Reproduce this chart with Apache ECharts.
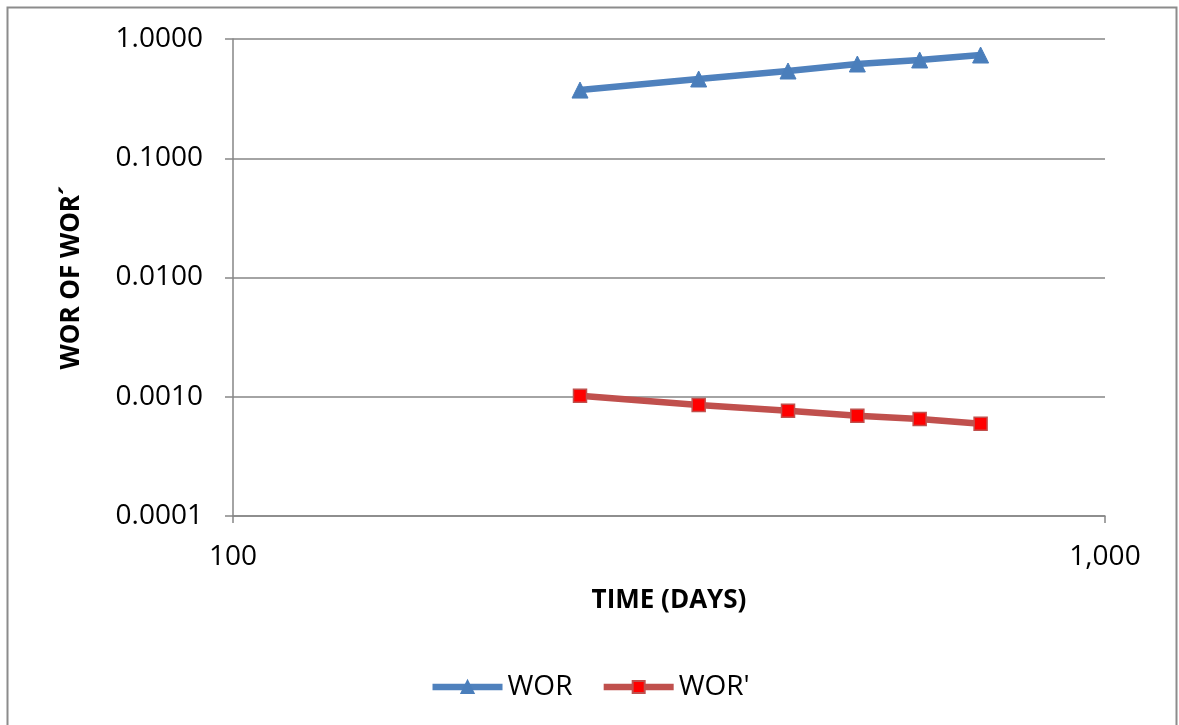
<!DOCTYPE html>
<html>
<head>
<meta charset="utf-8">
<script src="https://cdn.jsdelivr.net/npm/echarts@6/dist/echarts.min.js"></script>
<style>
  html, body { margin: 0; padding: 0; background: #fff; }
  #chart { width: 1179px; height: 725px; }
</style>
</head>
<body>
<div id="chart"></div>
<script>
// Time in days for each measurement
const timeDays = [250, 342, 433, 520, 613, 720];
// Water-oil ratio and its derivative
const worValues = [0.373, 0.462, 0.539, 0.617, 0.667, 0.734];
const worPrimeValues = [0.00102, 0.000852, 0.000763, 0.000693, 0.000650, 0.000594];
const seriesNames = ['WOR', "WOR'"];
const xTitle = 'TIME (DAYS)';
const yTitle = 'WOR OF WOR\u00B4';

const font = '"Open Sans", "Noto Sans", sans-serif';
const axisGray = '#868686';

const chart = echarts.init(document.getElementById('chart'));
chart.setOption({
  animation: false,
  backgroundColor: '#ffffff',
  graphic: [{
    type: 'rect',
    shape: { x: 7.5, y: 7.5, width: 1169, height: 740 },
    style: { fill: 'none', stroke: '#8c8c8c', lineWidth: 2 },
    silent: true
  }],
  grid: { left: 233, right: 74, top: 39, bottom: 209, containLabel: false },
  xAxis: {
    type: 'log',
    logBase: 10,
    min: 100,
    max: 1000,
    name: xTitle,
    nameLocation: 'middle',
    nameGap: 72,
    nameTextStyle: { fontFamily: font, fontWeight: 'bold', fontSize: 26, color: '#000' },
    axisLine: { show: true, lineStyle: { color: axisGray, width: 1.5 } },
    axisTick: { show: true, length: 7, inside: false, lineStyle: { color: axisGray, width: 1.5 } },
    minorTick: { show: false },
    splitLine: { show: false },
    axisLabel: {
      margin: 27,
      fontFamily: font, fontSize: 28, color: '#000',
      formatter: v => Math.round(v).toLocaleString('en-US')
    }
  },
  yAxis: {
    type: 'log',
    logBase: 10,
    min: 0.0001,
    max: 1,
    name: yTitle,
    nameLocation: 'middle',
    nameGap: 148,
    nameRotate: 90,
    nameTextStyle: { fontFamily: font, fontWeight: 'bold', fontSize: 26, color: '#000' },
    axisLine: { show: true, lineStyle: { color: axisGray, width: 1.5 } },
    axisTick: { show: true, length: 8, lineStyle: { color: axisGray, width: 1.5 } },
    splitLine: { show: true, lineStyle: { color: axisGray, width: 1.5 } },
    axisLabel: {
      margin: 30,
      fontFamily: font, fontSize: 28, color: '#000',
      formatter: v => Number(v).toFixed(4)
    }
  },
  legend: {
    top: 668,
    left: 'center',
    itemWidth: 70,
    itemHeight: 15,
    itemGap: 28,
    lineStyle: { width: 6.5 },
    textStyle: { fontFamily: font, fontSize: 28, color: '#000' },
    data: seriesNames
  },
  series: [
    {
      name: seriesNames[0],
      type: 'line',
      data: timeDays.map((t, i) => [t, worValues[i]]),
      symbol: 'triangle',
      symbolSize: 16,
      lineStyle: { color: '#4F81BD', width: 6.5 },
      itemStyle: { color: '#4A7EBB', borderColor: '#4A7EBB', borderWidth: 1 }
    },
    {
      name: seriesNames[1],
      type: 'line',
      data: timeDays.map((t, i) => [t, worPrimeValues[i]]),
      symbol: 'rect',
      symbolSize: 13,
      lineStyle: { color: '#C0504D', width: 6.5 },
      itemStyle: { color: '#FF0000', borderColor: '#C0504D', borderWidth: 1.5 }
    }
  ]
});
</script>
</body>
</html>
